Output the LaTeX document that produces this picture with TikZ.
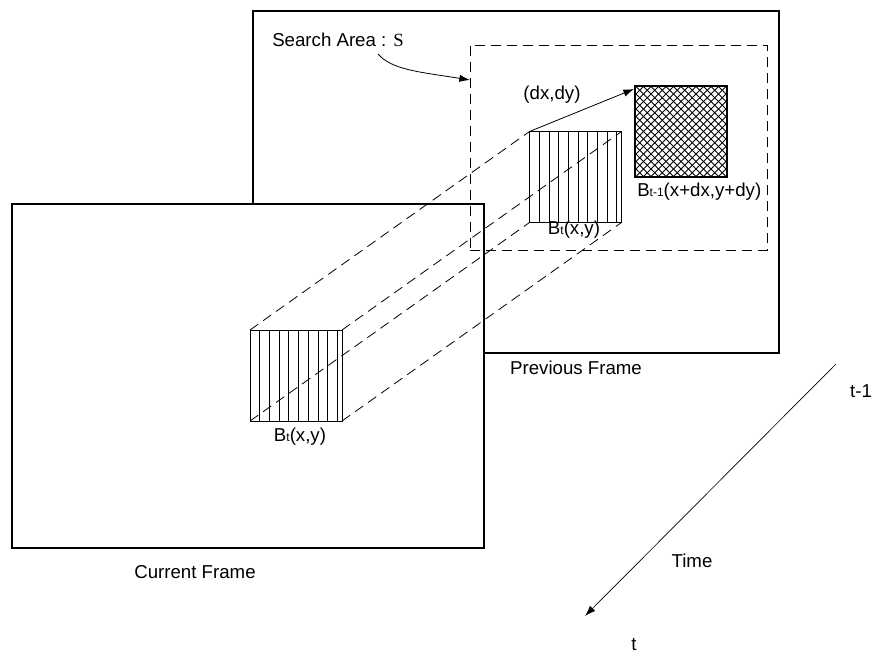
\documentclass[tikz,border=0pt]{standalone}
\usepackage{fontspec}
\setmainfont{Liberation Sans}
\newfontfamily\serifS{Liberation Serif}
\usepackage{tikz}
\usetikzlibrary{arrows.meta,positioning,calc}
\newcommand{\sub}[1]{{\fontsize{9}{9}\selectfont #1}}
\tikzset{
  frame/.style={draw,fill=white,inner sep=0pt,outer sep=0pt},
  blk/.style={draw,fill=white,inner sep=0pt,outer sep=0pt,minimum width=69pt,minimum height=68.25pt,line width=0.7pt},
  proj/.style={dash pattern=on 7.5pt off 4.5pt,line width=0.6pt},
  lbl/.style={inner sep=0pt,font=\fontsize{14}{17}\selectfont},
  tip/.style={-{Latex[length=8pt,width=5.5pt]}}
}

\begin{document}
\begin{tikzpicture}[x=0.75pt,y=-0.75pt]
\useasboundingbox (0,0) rectangle (875,657);
% previous frame and search area
\node[frame,line width=0.8pt,minimum width=394.5pt,minimum height=256.5pt] (prevframe) at (516,182) {};
\node[frame,line width=1.4pt,minimum width=354pt,minimum height=258pt] (curframe) at (248,376) {};
\node[draw,proj,inner sep=0pt,minimum width=222.75pt,minimum height=153.75pt] (area) at (618.5,147.5) {};
% blocks
\node[blk] (curblk) at (296,375.5) {};
\node[blk] (prevblk) at (575.5,177) {};
\node[blk] (match) at (681,131.5) {};
\foreach \k in {1,...,9} {
  \draw[line width=0.6pt] ([xshift=\k*7.275pt]curblk.north west) -- ([xshift=\k*7.275pt]curblk.south west);
  \draw[line width=0.6pt] ([xshift=\k*7.275pt]prevblk.north west) -- ([xshift=\k*7.275pt]prevblk.south west);
}
\begin{scope}
\clip (match.south west) rectangle (match.north east);
\foreach \c in {-105,-97.5,...,105} {
  \draw[line width=0.7pt] (681+\c-60,71.5) -- (681+\c+60,191.5);
  \draw[line width=0.7pt] (681+\c+60,71.5) -- (681+\c-60,191.5);
}
\end{scope}
\draw[line width=0.9pt] (match.south west) rectangle (match.north east);
% projection lines
\draw[proj] (curblk.north west) -- (prevblk.north west);
\draw[proj] (curblk.north east) -- (prevblk.north east);
\draw[proj] (curblk.south west) -- (prevblk.south west);
\draw[proj] (curblk.south east) -- (prevblk.south east);
% motion vector
\draw[tip,line width=0.6pt] (prevblk.north west) -- ($(match.north west)+(-1,3)$);
% labels
\node[lbl,anchor=west] (search) at (272,40) {Search Area : {\serifS S}};
\coordinate (areain) at (470,80);
\draw[tip,line width=0.6pt] (378,54) .. controls (392,70) and (420,72) .. (areain);
\node[lbl] (dxdy) at (552,95) {(dx,dy)};
\node[lbl,anchor=west] (matchlbl) at (637,192) {B\sub{t-1}(x+dx,y+dy)};
\node[lbl] (prevlbl) at (574,230) {B\sub{t}(x,y)};
\node[lbl] (curlbl) at (300,437) {B\sub{t}(x,y)};
\node[lbl] (prevname) at (576,368) {Previous Frame};
\node[lbl] (curname) at (195,572) {Current Frame};
% time axis
\node[lbl] (tm1) at (861,391) {t-1};
\node[lbl] (tnow) at (634,645) {t};
\node[lbl] (time) at (692,561) {Time};
\coordinate (tstart) at (836,364);
\coordinate (tend) at (585,616);
\draw[tip,line width=0.5pt] (tstart) -- (tend);
\end{tikzpicture}
\end{document}
